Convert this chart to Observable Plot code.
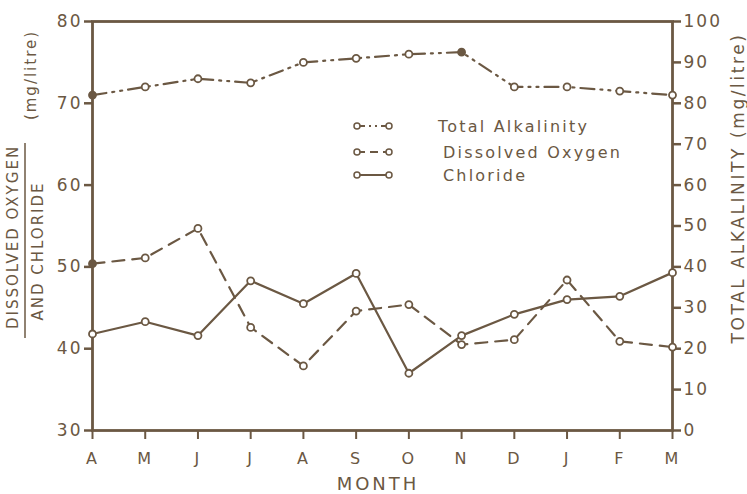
<!DOCTYPE html>
<html><head><meta charset="utf-8">
<script src="https://cdn.jsdelivr.net/npm/d3@7"></script>
<script src="https://cdn.jsdelivr.net/npm/@observablehq/plot@0.6"></script>
<style>
body{margin:0;background:#fff;}
#chart{position:relative;width:747px;height:494px;}
</style></head><body><div id="chart"></div>
<script>
const months = ["A","M","J","J","A","S","O","N","D","J","F","M"];
const totalAlkalinity = [82,84,86,85,90,91,92,92.5,84,84,83,82];
const dissolvedOxygen = [50.4,51.1,54.7,42.6,37.9,44.6,45.4,40.5,41.1,48.4,40.9,40.2];
const chloride = [41.8,43.3,41.6,48.3,45.5,49.2,37.0,41.6,44.2,46.0,46.4,49.3];
const leftTicks = [30,40,50,60,70,80];
const rightTicks = [0,10,20,30,40,50,60,70,80,90,100];
const seriesNames = ["Total Alkalinity","Dissolved Oxygen","Chloride"];

const ink = "#6b5843";
const font = "'DejaVu Sans', sans-serif";
const alkToLeft = v => 30 + v / 2;
const data = months.map((m, i) => ({i, month: m, alk: totalAlkalinity[i], dOx: dissolvedOxygen[i], cl: chloride[i]}));
const alkDash = "14,6,2,6,2,6";
const doDash = "12,8";

const plot = Plot.plot({
  width: 747, height: 494,
  marginLeft: 92, marginRight: 75, marginTop: 21, marginBottom: 64,
  style: {fontFamily: font, color: ink, background: "white", overflow: "visible", letterSpacing: "2px"},
  x: {domain: [0, 11]},
  y: {domain: [30, 80]},
  marks: [
    Plot.axisY({ticks: leftTicks, tickSize: 8, tickPadding: 2, fontSize: 17, strokeWidth: 2.5, label: null}),
    Plot.axisY({anchor: "right", ticks: rightTicks.map(alkToLeft), tickFormat: v => String(Math.round((v - 30) * 2)),
      tickSize: 8, tickPadding: 3, fontSize: 17, strokeWidth: 2.5, label: null}),
    Plot.axisX({ticks: d3.range(12), tickFormat: i => months[i], tickSize: 9, tickPadding: 13, fontSize: 16, strokeWidth: 2, label: null}),
    Plot.frame({stroke: ink, strokeWidth: 2.8}),
    Plot.line(data, {x: "i", y: d => alkToLeft(d.alk), stroke: ink, strokeWidth: 2.2, strokeDasharray: alkDash}),
    Plot.line(data, {x: "i", y: "dOx", stroke: ink, strokeWidth: 2.2, strokeDasharray: doDash}),
    Plot.line(data, {x: "i", y: "cl", stroke: ink, strokeWidth: 2.2}),
    Plot.dot(data, {x: "i", y: d => alkToLeft(d.alk), r: 3.5, stroke: ink, strokeWidth: 1.8, fill: d => (d.i === 0 || d.i === 7) ? ink : "white"}),
    Plot.dot(data, {x: "i", y: "dOx", r: 3.5, stroke: ink, strokeWidth: 1.8, fill: d => d.i === 0 ? ink : "white"}),
    Plot.dot(data, {x: "i", y: "cl", r: 3.5, stroke: ink, strokeWidth: 1.8, fill: "white"})
  ]
});
document.getElementById("chart").appendChild(plot);

const svg = d3.select(plot);
// x title
svg.append("text").attr("x", 378).attr("y", 490).attr("text-anchor", "middle")
  .attr("fill", ink).attr("font-size", 18).attr("letter-spacing", "3px").attr("font-family", font).text("MONTH");
// left title
const lt = svg.append("g").attr("fill", ink).attr("font-family", font);
lt.append("text").attr("transform", "translate(18,237) rotate(-90)").attr("text-anchor", "middle")
  .attr("font-size", 15).attr("letter-spacing", "2px").text("DISSOLVED OXYGEN");
lt.append("line").attr("x1", 25).attr("x2", 25).attr("y1", 143).attr("y2", 338).attr("stroke", ink).attr("stroke-width", 1.5);
lt.append("text").attr("transform", "translate(43,251) rotate(-90)").attr("text-anchor", "middle")
  .attr("font-size", 15).attr("letter-spacing", "2px").text("AND CHLORIDE");
lt.append("text").attr("transform", "translate(36,75) rotate(-90)").attr("text-anchor", "middle")
  .attr("font-size", 15).attr("letter-spacing", "2px").text("(mg/litre)");
// right title
svg.append("text").attr("transform", "translate(744,188) rotate(-90)").attr("text-anchor", "middle")
  .attr("fill", ink).attr("font-family", font).attr("font-size", 17).attr("letter-spacing", "2.6px")
  .text("TOTAL ALKALINITY (mg/litre)");
// legend
const lg = svg.append("g").attr("font-family", font);
const legY = [126, 152, 175];
const dashes = [alkDash, doDash, null];
seriesNames.forEach((name, k) => {
  const y = legY[k];
  const ln = lg.append("line").attr("x1", 357).attr("x2", 389).attr("y1", y).attr("y2", y)
    .attr("stroke", ink).attr("stroke-width", 2);
  if (dashes[k]) ln.attr("stroke-dasharray", k === 0 ? "8,4,2,4,2,4" : "8,5");
  [357, 389].forEach(cx => lg.append("circle").attr("cx", cx).attr("cy", y).attr("r", 3)
    .attr("fill", "white").attr("stroke", ink).attr("stroke-width", 1.5));
  lg.append("text").attr("x", k === 0 ? 438 : 443).attr("y", y + 6).attr("fill", ink)
    .attr("text-anchor", "start").attr("font-size", 16).attr("letter-spacing", "2.2px").text(name);
});
</script></body></html>
